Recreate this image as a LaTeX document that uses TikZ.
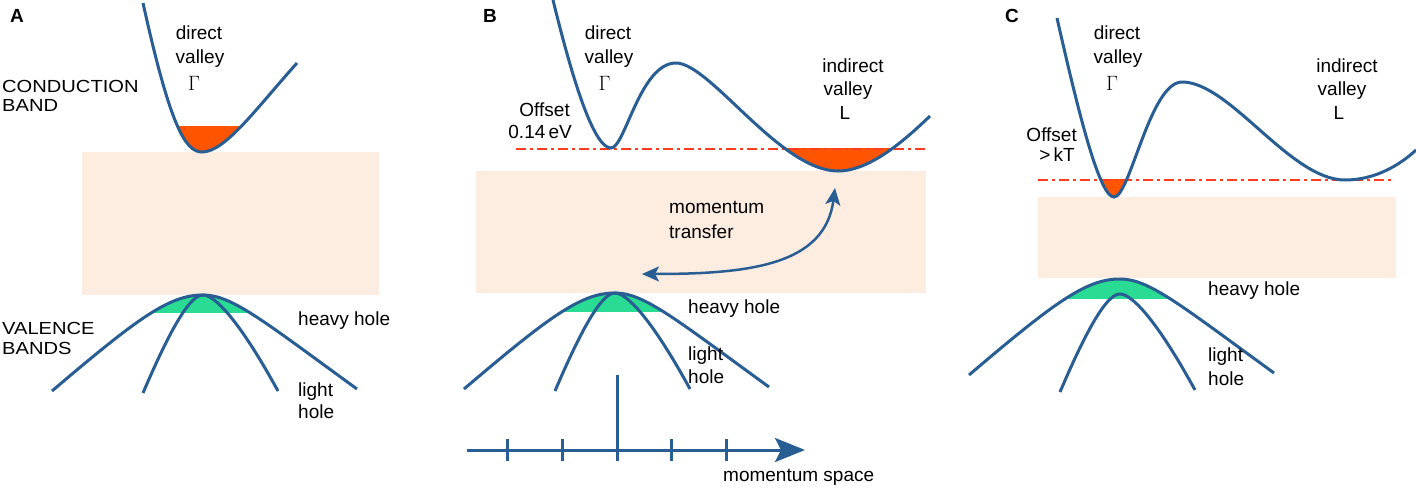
\documentclass[tikz,border=0pt]{standalone}
\usepackage{fontspec}
\setmainfont{Liberation Sans}
\newfontfamily\capsfont[FakeStretch=1.15]{Liberation Sans}
\usetikzlibrary{arrows.meta}
\definecolor{bandblue}{RGB}{40,94,148}
\definecolor{gapbeige}{RGB}{253,236,224}
\definecolor{elecfill}{RGB}{255,84,0}
\definecolor{holefill}{RGB}{42,219,147}
\definecolor{levelred}{RGB}{255,60,30}
\def\heavyband{(52,391) .. controls (140,316) and (170,295) .. (203,295) .. controls (232,295) and (262,320) .. (357,389)}
\def\lightband{(143,393) .. controls (175,318) and (192,295) .. (203,295) .. controls (214,295) and (238,318) .. (278,391)}
\def\condA{(143,3) .. controls (170,125) and (185,152) .. (202,152) .. controls (225,152) and (255,110) .. (297,63)}
\def\condBleft{(553,0) .. controls (575,90) and (595,148) .. (611,148) .. controls (625,148) and (640,63) .. (676,63)}
\def\condBright{(676,63) .. controls (710,63) and (780,171) .. (838,171) .. controls (870,171) and (905,140) .. (930,116)}
\def\condCleft{(1057,18) .. controls (1080,120) and (1100,197) .. (1114,197) .. controls (1130,197) and (1150,82) .. (1182,82)}
\def\condCright{(1182,82) .. controls (1230,82) and (1290,180) .. (1345,180) .. controls (1375,180) and (1400,165) .. (1416,150)}
\begin{document}
\begin{tikzpicture}[x=1pt,y=-1pt,
  bandline/.style={draw=bandblue, line width=3pt},
  gapbox/.style={fill=gapbeige},
  levelline/.style={draw=levelred, line width=2pt, dash pattern=on 10pt off 4pt on 3pt off 4pt},
  lbl/.style={font=\fontsize{19}{19}\selectfont, inner sep=0pt, anchor=base},
  lblw/.style={lbl, anchor=base west},
  lble/.style={lbl, anchor=base east},
  capslbl/.style={font=\capsfont\fontsize{17.5}{17.5}\selectfont, inner sep=0pt, anchor=base west},
  panel/.style={font=\bfseries\fontsize{19}{19}\selectfont, inner sep=0pt, anchor=base west},
  gam/.style={font=\fontsize{21}{21}\selectfont, inner sep=0pt, anchor=base}]
\useasboundingbox (0,0) rectangle (1416,489);

% ---------------- Panel A ----------------
\fill[gapbox] (82,152) rectangle (379,295);
\begin{scope}
  \clip (0,127) rectangle (400,200);
  \fill[elecfill] \condA -- cycle;
\end{scope}
\begin{scope}
  \clip (0,250) rectangle (400,312);
  \fill[holefill] \heavyband -- cycle;
\end{scope}
\draw[bandline] \condA;
\draw[bandline] \heavyband;
\draw[bandline] \lightband;
\node[panel] (labA) at (10,23) {A};
\node[lbl] (A-direct) at (199,40) {direct};
\node[lbl] (A-valley) at (200,64) {valley};
\node[gam] (A-gamma) at (194,91) {$\Gamma$};
\node[capslbl] (A-cond) at (2,92.5) {CONDUCTION};
\node[capslbl] (A-band) at (2,111.5) {BAND};
\node[capslbl] (A-val) at (2,334) {VALENCE};
\node[capslbl] (A-bands) at (2,354) {BANDS};
\node[lblw] (A-heavy) at (298,325.5) {heavy hole};
\node[lblw] (A-light) at (298,396) {light};
\node[lblw] (A-lhole) at (298,418) {hole};

% ---------------- Panel B ----------------
\fill[gapbox] (476,171) rectangle (926,293);
\begin{scope}
  \clip (700,149) rectangle (940,200);
  \fill[elecfill] \condBright -- cycle;
\end{scope}
\draw[levelline] (516,149) -- (928,149);
\begin{scope}[shift={(412,-2)}]
  \begin{scope}
    \clip (0,250) rectangle (400,313);
    \fill[holefill] \heavyband -- cycle;
  \end{scope}
  \draw[bandline] \heavyband;
  \draw[bandline] \lightband;
\end{scope}
\draw[bandline] \condBleft;
\draw[bandline] \condBright;
\node[panel] (labB) at (483,23) {B};
\node[lbl] (B-direct) at (608,40) {direct};
\node[lbl] (B-valley) at (609,64) {valley};
\node[gam] (B-gamma) at (604.5,91) {$\Gamma$};
\node[lble] (B-offset) at (570,116.7) {Offset};
\node[lble] (B-value) at (572,138.3) {0.14\,eV};
\node[lbl] (B-indirect) at (853,72.5) {indirect};
\node[lbl] (B-ivalley) at (848,96) {valley};
\node[lbl] (B-L) at (845,119.5) {L};
\node[lblw] (B-mom) at (669,213.3) {momentum};
\node[lblw] (B-trans) at (669,238.3) {transfer};
\node[lblw] (B-heavy) at (688,313.3) {heavy hole};
\node[lblw] (B-light) at (688,360) {light};
\node[lblw] (B-lhole) at (688,383.3) {hole};
\node[lblw] (B-space) at (723,481.7) {momentum space};
\coordinate (trA) at (642,274);
\coordinate (trB) at (835,188);
\draw[draw=bandblue, line width=2.5pt, {Stealth[length=17pt,width=15pt,inset=4pt]}-{Stealth[length=17pt,width=15pt,inset=4pt]}]
  (trA) .. controls (750,274) and (825,265) .. (trB);
% momentum axis
\coordinate (axL) at (467,450);
\coordinate (axR) at (805,450);
\draw[draw=bandblue, line width=3pt, -{Stealth[length=30pt,width=24pt,inset=6pt]}] (axL) -- (axR);
\foreach \tx in {507,562,671,726}
  \draw[bandblue, line width=3pt] (\tx,439) -- (\tx,461);
\draw[bandblue, line width=3pt] (617,375) -- (617,461);

% ---------------- Panel C ----------------
\fill[gapbox] (1038,197) rectangle (1396,278);
\begin{scope}
  \clip (1080,180) rectangle (1150,220);
  \fill[elecfill] \condCleft -- cycle;
\end{scope}
\draw[levelline] (1038,180) -- (1392,180);
\begin{scope}[shift={(917,-16)}]
  \begin{scope}
    \clip (0,250) rectangle (400,314);
    \fill[holefill] \heavyband -- cycle;
  \end{scope}
  \draw[bandline] \heavyband;
\end{scope}
\begin{scope}[shift={(917,-1)}]
  \draw[bandline] \lightband;
\end{scope}
\draw[bandline] \condCleft;
\draw[bandline] \condCright;
\node[panel] (labC) at (1005,23) {C};
\node[lbl] (C-direct) at (1117,40) {direct};
\node[lbl] (C-valley) at (1118,64) {valley};
\node[gam] (C-gamma) at (1112,91) {$\Gamma$};
\node[lble] (C-offset) at (1077,141.7) {Offset};
\node[lble] (C-value) at (1075,161.7) {>\,kT};
\node[lbl] (C-indirect) at (1347,72.5) {indirect};
\node[lbl] (C-ivalley) at (1342,96) {valley};
\node[lbl] (C-L) at (1339,119.5) {L};
\node[lblw] (C-heavy) at (1208,295) {heavy hole};
\node[lblw] (C-light) at (1208,361.7) {light};
\node[lblw] (C-lhole) at (1208,385) {hole};
\end{tikzpicture}
\end{document}
